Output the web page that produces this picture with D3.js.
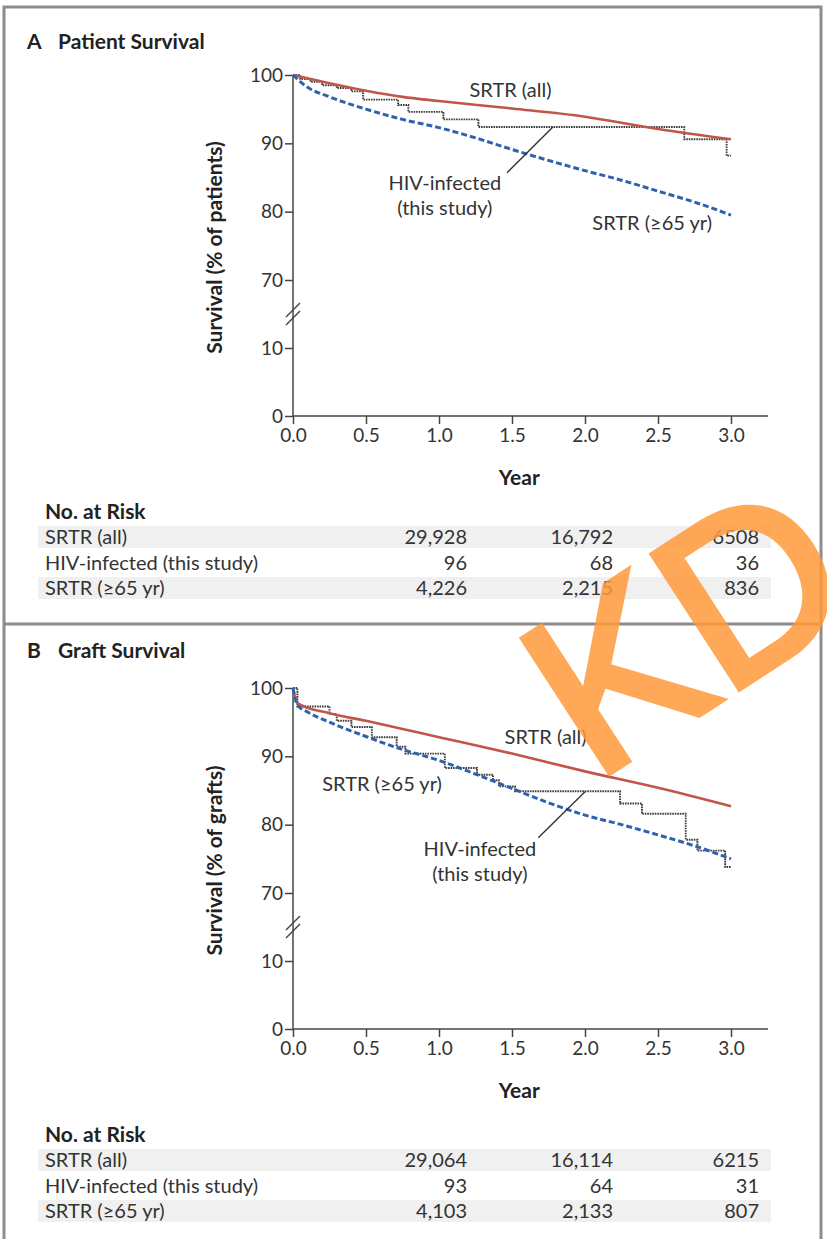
<!DOCTYPE html>
<html>
<head>
<meta charset="utf-8">
<script src="https://cdn.jsdelivr.net/npm/d3@7"></script>
<style>
  body { margin: 0; background: #fff; }
  svg { display: block; font-family: Lato, "Open Sans", sans-serif; }
</style>
</head>
<body>
<script>
'use strict';

// ---- data ----
const years = [0, 0.5, 1.0, 1.5, 2.0, 2.5, 3.0];
const yTicks = [0, 10, 70, 80, 90, 100];
const rowNames = ["SRTR (all)", "HIV-infected (this study)", "SRTR (\u226565 yr)"];
const riskYears = [1, 2, 3];

// panel A, patient survival: [year, % surviving]
const srtrAllA = [[0, 100], [0.25, 98.8], [0.5, 97.7], [0.75, 96.8], [1.0, 96.2], [1.5, 95.1],
  [2.0, 93.9], [2.5, 92.1], [3.0, 90.6]];
const srtrOldA = [[0, 100], [0.1, 98.2], [0.25, 96.8], [0.5, 95.0], [0.75, 93.5], [1.0, 92.3],
  [1.25, 90.8], [1.5, 89.1], [1.75, 87.5], [2.0, 86.0], [2.25, 84.6], [2.5, 83.0], [2.75, 81.4], [3.0, 79.5]];
const hivA = [[0, 100], [0.05, 99.4], [0.12, 99.0], [0.2, 98.5], [0.3, 98.1], [0.4, 97.6],
  [0.48, 96.4], [0.72, 95.6], [0.79, 94.6], [1.03, 93.5], [1.27, 92.4], [2.68, 90.6], [2.97, 88.2], [3.0, 88.2]];
const riskA = [["29,928", "16,792", "6508"], ["96", "68", "36"], ["4,226", "2,215", "836"]];

// panel B, graft survival
const srtrAllB = [[0, 100], [0.03, 97.8], [0.25, 96.3], [0.5, 95.2], [0.75, 94.0], [1.0, 92.8],
  [1.5, 90.4], [2.0, 87.8], [2.5, 85.4], [3.0, 82.7]];
const srtrOldB = [[0, 100], [0.03, 97.5], [0.1, 96.5], [0.25, 95.0], [0.5, 92.9], [0.75, 91.0],
  [1.0, 89.4], [1.25, 87.4], [1.5, 85.3], [1.75, 83.2], [2.0, 81.4], [2.25, 80.0], [2.5, 78.5],
  [2.75, 76.9], [3.0, 75.0]];
const hivB = [[0, 100], [0.03, 97.3], [0.25, 96.2], [0.3, 95.2], [0.4, 94.3], [0.54, 92.8],
  [0.71, 91.4], [0.77, 90.4], [1.04, 88.3], [1.26, 87.3], [1.37, 86.5], [1.41, 85.6], [1.52, 84.9],
  [2.24, 83.1], [2.39, 81.6], [2.69, 77.8], [2.77, 76.2], [2.96, 73.8], [3.0, 73.8]];
const riskB = [["29,064", "16,114", "6215"], ["93", "64", "31"], ["4,103", "2,133", "807"]];

// curve labels, in [year, %] coordinates
const labelsA = [["SRTR (all)", 1.49, 97.8], ["HIV-infected", 1.04, 84.2], ["(this study)", 1.04, 80.6],
  ["SRTR (\u226565 yr)", 2.46, 78.4]];
const leaderA = [[1.466, 85.7], [1.78, 92.4]];
const labelsB = [["SRTR (all)", 1.73, 92.8], ["SRTR (\u226565 yr)", 0.61, 86.0],
  ["HIV-infected", 1.28, 76.5], ["(this study)", 1.28, 72.8]];
const leaderB = [[1.68, 78.1], [2.0, 84.8]];

// ---- layout ----
const W = 827, H = 1239;
const panels = [
  { key: "A", title: "Patient Survival", ylab: "Survival (% of patients)", top: 0, titleY: 49, tableY: 519,
    all: srtrAllA, old: srtrOldA, hiv: hivA, risk: riskA, labels: labelsA, leader: leaderA },
  { key: "B", title: "Graft Survival", ylab: "Survival (% of grafts)", top: 613, titleY: 45, tableY: 529,
    all: srtrAllB, old: srtrOldB, hiv: hivB, risk: riskB, labels: labelsB, leader: leaderB }
];

const svg = d3.select("body").append("svg")
  .attr("width", W)
  .attr("height", H);

// outer frame and the rule between panels
svg.append("rect")
  .attr("x", 4).attr("y", 7)
  .attr("width", 817).attr("height", 1260)
  .attr("fill", "none")
  .attr("stroke", "#8c8c8c")
  .attr("stroke-width", 3);
svg.append("line")
  .attr("x1", 4).attr("x2", 821)
  .attr("y1", 624).attr("y2", 624)
  .attr("stroke", "#8c8c8c")
  .attr("stroke-width", 3);

const x = d3.scaleLinear().domain([0, 3]).range([293, 731]);
// broken axis: 0-10 below the break, 70-100 above it
const y = d3.scaleLinear().domain([0, 10, 70, 100]).range([416, 348, 280, 75]);

panels.forEach(drawPanel);

function drawPanel(p) {
  const g = svg.append("g").attr("transform", `translate(0,${p.top})`);

  // panel title
  const t = g.append("text")
    .attr("x", 27).attr("y", p.titleY)
    .style("font-size", "21px").style("font-weight", "bold")
    .attr("fill", "#222");
  t.append("tspan").text(p.key);
  t.append("tspan").attr("x", 58).text(p.title);

  // stripes behind the at-risk rows 1 and 3
  [0, 2].forEach(i => {
    g.append("rect")
      .attr("x", 38).attr("width", 733)
      .attr("y", p.tableY + 7 + i * 25.5).attr("height", 22)
      .attr("fill", "#f0f0f0");
  });

  // x axis
  const xAxis = g.append("g")
    .attr("transform", `translate(0,${y(0)})`)
    .call(d3.axisBottom(x).tickValues(years).tickFormat(d3.format(".1f")).tickSize(8).tickPadding(5));
  xAxis.select(".domain").remove();
  g.append("line")
    .attr("x1", x(0)).attr("x2", 768)
    .attr("y1", y(0)).attr("y2", y(0))
    .attr("stroke", "#444").attr("stroke-width", 1.5);

  // y axis
  const yAxis = g.append("g")
    .attr("transform", `translate(${x(0)},0)`)
    .call(d3.axisLeft(y).tickValues(yTicks).tickSize(8).tickPadding(2));
  yAxis.select(".domain").remove();
  g.append("line")
    .attr("x1", x(0)).attr("x2", x(0))
    .attr("y1", y(0)).attr("y2", y(100))
    .attr("stroke", "#444").attr("stroke-width", 1.5);

  [xAxis, yAxis].forEach(a => {
    a.selectAll(".tick line").attr("stroke", "#444").attr("stroke-width", 1.5);
    a.selectAll(".tick text")
      .attr("fill", "#333")
      .style("font-size", "19px")
      .style("font-family", "Lato, 'Open Sans', sans-serif");
  });

  // break marks on the y axis
  const yb = y(40);
  [-4, 4].forEach(dy => {
    g.append("line")
      .attr("x1", x(0) - 7).attr("y1", yb + dy + 7)
      .attr("x2", x(0) + 7).attr("y2", yb + dy - 7)
      .attr("stroke", "#444").attr("stroke-width", 1.5);
  });

  // axis labels
  g.append("text")
    .attr("x", x(1.55)).attr("y", y(0) + 69)
    .attr("text-anchor", "middle")
    .style("font-size", "21px").style("font-weight", "bold")
    .attr("fill", "#222")
    .text("Year");
  g.append("text")
    .attr("transform", `translate(222,${(y(0) + y(100)) / 2 + 2})rotate(-90)`)
    .attr("text-anchor", "middle")
    .style("font-size", "21px").style("font-weight", "bold")
    .attr("fill", "#222")
    .text(p.ylab);

  // curves
  const smooth = d3.line().x(d => x(d[0])).y(d => y(d[1])).curve(d3.curveMonotoneX);
  const step = d3.line().x(d => x(d[0])).y(d => y(d[1])).curve(d3.curveStepAfter);

  g.append("path")
    .attr("d", step(p.hiv))
    .attr("fill", "none")
    .attr("stroke", "#3c3c3c")
    .attr("stroke-width", 1.9)
    .attr("stroke-dasharray", "1.6,0.9");

  g.append("path")
    .attr("d", smooth(p.all))
    .attr("fill", "none")
    .attr("stroke", "#c0564a")
    .attr("stroke-width", 2.6);

  g.append("path")
    .attr("d", smooth(p.old))
    .attr("fill", "none")
    .attr("stroke", "#2e62ae")
    .attr("stroke-width", 3)
    .attr("stroke-dasharray", "6,3");

  // leader line and curve labels
  g.append("line")
    .attr("x1", x(p.leader[0][0])).attr("y1", y(p.leader[0][1]))
    .attr("x2", x(p.leader[1][0])).attr("y2", y(p.leader[1][1]))
    .attr("stroke", "#333").attr("stroke-width", 1.4);

  g.selectAll(".curve-label")
    .data(p.labels)
    .enter()
    .append("text")
    .attr("class", "curve-label")
    .attr("x", d => x(d[1]))
    .attr("y", d => y(d[2]))
    .attr("dy", "0.35em")
    .attr("text-anchor", "middle")
    .style("font-size", "20px")
    .attr("fill", "#333")
    .text(d => d[0]);

  // number at risk table
  g.append("text")
    .attr("x", 45).attr("y", p.tableY)
    .style("font-size", "21px").style("font-weight", "bold")
    .attr("fill", "#222")
    .text("No. at Risk");

  rowNames.forEach((name, i) => {
    const ry = p.tableY + 25 + i * 25.5;
    g.append("text")
      .attr("x", 45).attr("y", ry)
      .style("font-size", "20px")
      .attr("fill", "#333")
      .text(name);
    p.risk[i].forEach((val, j) => {
      g.append("text")
        .attr("x", x(riskYears[j]) + 28).attr("y", ry)
        .attr("text-anchor", "end")
        .style("font-size", "20px")
        .attr("fill", "#333")
        .text(val);
    });
  });
}

// watermark laid over the figure
svg.append("g")
  .attr("opacity", 0.85)
  .append("text")
  .attr("transform", "translate(594,783)rotate(-33)")
  .style("font-family", "'Liberation Sans', Arial, sans-serif")
  .style("font-size", "232px")
  .attr("fill", "#ff9a3c")
  .attr("stroke", "#ff9a3c")
  .attr("stroke-width", 6)
  .attr("stroke-linejoin", "miter")
  .text("KD");
</script>
</body>
</html>
